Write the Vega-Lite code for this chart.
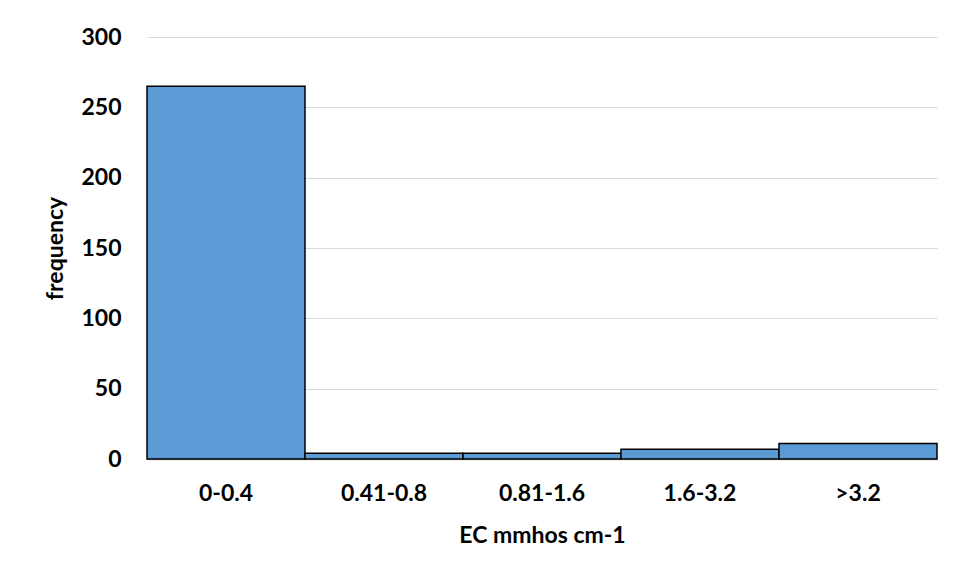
{
  "$schema": "https://vega.github.io/schema/vega-lite/v6.json",
  "width": 790,
  "height": 422,
  "autosize": "none",
  "padding": {"left": 147, "top": 37, "right": 28, "bottom": 127},
  "data": {
    "values": [
      {"range": "0-0.4", "frequency": 265},
      {"range": "0.41-0.8", "frequency": 4},
      {"range": "0.81-1.6", "frequency": 4},
      {"range": "1.6-3.2", "frequency": 7},
      {"range": ">3.2", "frequency": 11}
    ]
  },
  "mark": {"type": "bar", "fill": "#5B9BD5", "stroke": "#000000", "strokeWidth": 1.5},
  "encoding": {
    "x": {
      "field": "range",
      "type": "nominal",
      "sort": null,
      "scale": {"paddingInner": 0, "paddingOuter": 0},
      "axis": {
        "title": "EC mmhos cm-1",
        "labelAngle": 0,
        "ticks": false,
        "domainColor": "#BFBFBF",
        "domainWidth": 1.5,
        "labelPadding": 23,
        "titlePadding": 19
      }
    },
    "y": {
      "field": "frequency",
      "type": "quantitative",
      "scale": {"domain": [0, 300]},
      "axis": {
        "title": "frequency",
        "values": [0, 50, 100, 150, 200, 250, 300],
        "ticks": false,
        "domain": false,
        "gridColor": "#D9D9D9",
        "gridWidth": 1,
        "labelPadding": 26,
        "titlePadding": 13
      }
    }
  },
  "config": {
    "view": {"stroke": null},
    "font": "Lato",
    "axis": {
      "labelFont": "Lato",
      "labelFontSize": 23,
      "labelFontWeight": "bold",
      "labelColor": "#000000",
      "titleFont": "Lato",
      "titleFontSize": 23,
      "titleFontWeight": "bold",
      "titleColor": "#000000"
    }
  }
}
